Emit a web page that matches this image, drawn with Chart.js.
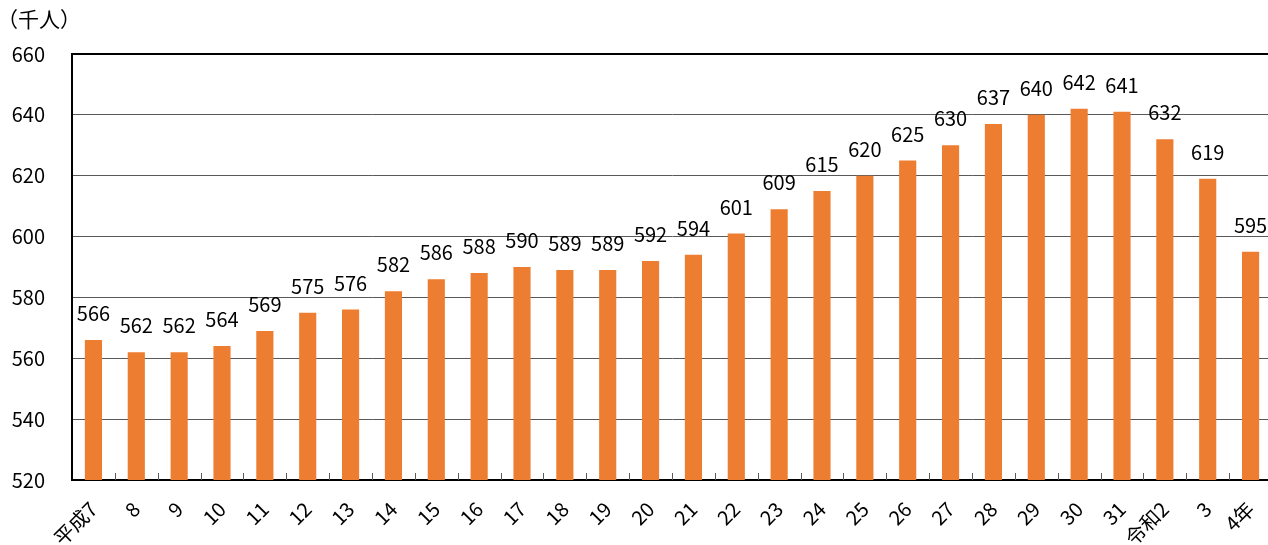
<!DOCTYPE html>
<html>
<head>
<meta charset="utf-8">
<script src="https://cdn.jsdelivr.net/npm/chart.js@4/dist/chart.umd.min.js"></script>
<style>
html,body{margin:0;padding:0;background:#fff;overflow:hidden;width:1268px;height:545px;}
#wrap{position:absolute;left:0;top:0;width:1272px;height:545px;}
</style>
</head>
<body>
<div id="wrap"><canvas id="c" width="1272" height="545"></canvas></div>
<script>
const categories = ["平成7","8","9","10","11","12","13","14","15","16","17","18","19","20","21","22","23","24","25","26","27","28","29","30","31","令和2","3","4年"];
const values = [566,562,562,564,569,575,576,582,586,588,590,589,589,592,594,601,609,615,620,625,630,637,640,642,641,632,619,595];
const yTicks = [520,540,560,580,600,620,640,660];
const unitLabel = "（千人）";

const FONT = "'Noto Sans CJK JP', 'Noto Sans', sans-serif";

const labelPlugin = {
  id: 'valueLabels',
  afterDatasetsDraw(chart) {
    const ctx = chart.ctx;
    const meta = chart.getDatasetMeta(0);
    ctx.save();
    ctx.font = "20px " + FONT;
    ctx.fillStyle = "#000";
    ctx.textAlign = "center";
    ctx.textBaseline = "alphabetic";
    meta.data.forEach((bar, i) => {
      ctx.fillText(String(values[i]), bar.x, bar.y - 19);
    });
    ctx.restore();
  }
};

const extrasPlugin = {
  id: 'extras',
  afterDraw(chart) {
    const ctx = chart.ctx;
    const xs = chart.scales.x;
    const area = chart.chartArea;
    ctx.save();
    ctx.strokeStyle = "#595959";
    ctx.lineWidth = 1;
    const n = categories.length;
    const w = (area.right - area.left) / n;
    for (let i = 1; i < n; i++) {
      const x = Math.round(xs.getPixelForValue(i) - w / 2) + 0.5;
      ctx.beginPath();
      ctx.moveTo(x, area.bottom);
      ctx.lineTo(x, area.bottom - 7);
      ctx.stroke();
    }
    ctx.font = "21px " + FONT;
    ctx.fillStyle = "#000";
    ctx.textAlign = "left";
    ctx.textBaseline = "middle";
    ctx.fillText(unitLabel, -3, 19);
    ctx.restore();
  }
};

new Chart(document.getElementById('c'), {
  type: 'bar',
  data: {
    labels: categories,
    datasets: [{
      data: values,
      backgroundColor: '#ED7D31',
      borderWidth: 0,
      categoryPercentage: 1.0,
      barPercentage: 0.4
    }]
  },
  options: {
    responsive: false,
    animation: false,
    devicePixelRatio: 1,
    layout: { padding: { top: 54, left: 0, right: 0, bottom: 0 } },
    plugins: { legend: { display: false }, tooltip: { enabled: false }, title: { display: false } },
    scales: {
      x: {
        grid: { display: true, drawOnChartArea: false, drawTicks: false, offset: true },
        border: { display: true, color: '#000', width: 2 },
        ticks: {
          autoSkip: false,
          maxRotation: 45,
          minRotation: 45,
          padding: 17,
          color: '#000',
          font: { family: FONT, size: 20 }
        },
        afterFit(scale) {
          scale.height = 65;
          scale.paddingLeft = 0;
          scale.paddingRight = 0;
        }
      },
      y: {
        min: 520,
        max: 660,
        afterBuildTicks(scale) { scale.ticks = yTicks.map(v => ({ value: v })); },
        grid: {
          drawTicks: false,
          color: (c) => c.tick && c.tick.value === 660 ? '#000' : '#595959',
          lineWidth: (c) => c.tick && c.tick.value === 660 ? 2 : 1
        },
        border: { display: true, color: '#000', width: 2 },
        ticks: {
          padding: 27,
          color: '#000',
          font: { family: FONT, size: 20 }
        },
        afterFit(scale) {
          scale.width = 72;
          scale.paddingTop = 0;
          scale.paddingBottom = 0;
        }
      }
    }
  },
  plugins: [labelPlugin, extrasPlugin]
});
</script>
</body>
</html>
